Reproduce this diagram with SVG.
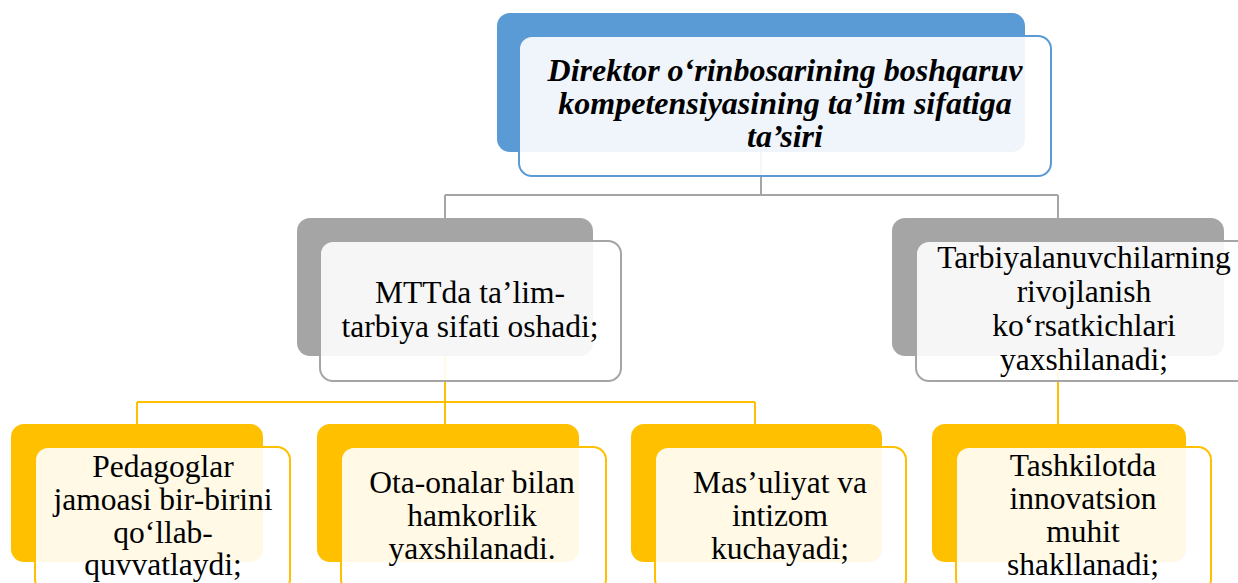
<svg xmlns="http://www.w3.org/2000/svg" width="1238" height="583" viewBox="0 0 1238 583">
<style>
.bb{fill:#5B9BD5}.bg{fill:#A5A5A5}.by{fill:#FFC000}
.f{fill:#FFFFFF;fill-opacity:0.9;stroke-width:2}
.fb{stroke:#5B9BD5}.fg{stroke:#A5A5A5}.fy{stroke:#FFC000}
.cg{fill:none;stroke:#A5A5A5;stroke-width:2}
.cy{fill:none;stroke:#FFC000;stroke-width:2}
.t{font-family:'Liberation Serif','Times New Roman',serif;font-size:31.5px;fill:#000;text-anchor:middle}
.h{font-family:'Liberation Serif','Times New Roman',serif;font-size:32px;font-weight:bold;font-style:italic;fill:#000;text-anchor:middle}
</style>
<g id="connectors">
<path class="cg" d="M761 152V195M445 195H1058M445 195V218M1058 195V218"/>
<path class="cy" d="M445 355V402M137 402H755M137 402V424M445 402V424M755 402V424M1058 355V424"/>
</g>
<g id="n0">
<rect class="bb" x="497" y="13" width="528" height="139" rx="13"/>
<rect class="f fb" x="519" y="36" width="532" height="140" rx="13"/>
<text class="h" x="785" y="81">Direktor o‘rinbosarining boshqaruv</text>
<text class="h" x="785" y="114">kompetensiyasining ta’lim sifatiga</text>
<text class="h" x="785" y="147">ta’siri</text>
</g>
<g id="n1">
<rect class="bg" x="297" y="218" width="296" height="138" rx="13"/>
<rect class="f fg" x="320" y="241" width="301" height="140" rx="13"/>
<text class="t" x="470" y="303">MTTda ta’lim-</text>
<text class="t" x="470" y="337">tarbiya sifati oshadi;</text>
</g>
<g id="n2">
<rect class="bg" x="892" y="218" width="332" height="138" rx="13"/>
<rect class="f fg" x="916" y="241" width="336" height="140" rx="13"/>
<text class="t" x="1084" y="268">Tarbiyalanuvchilarning</text>
<text class="t" x="1084" y="302">rivojlanish</text>
<text class="t" x="1084" y="336">ko‘rsatkichlari</text>
<text class="t" x="1084" y="370">yaxshilanadi;</text>
</g>
<g id="n3">
<rect class="by" x="11" y="424" width="252" height="138" rx="13"/>
<rect class="f fy" x="35" y="447" width="255" height="145" rx="13"/>
<text class="t" x="163" y="477">Pedagoglar</text>
<text class="t" x="163" y="510">jamoasi bir-birini</text>
<text class="t" x="163" y="543">qo‘llab-</text>
<text class="t" x="163" y="575">quvvatlaydi;</text>
</g>
<g id="n4">
<rect class="by" x="317" y="424" width="262" height="138" rx="13"/>
<rect class="f fy" x="341" y="447" width="265" height="145" rx="13"/>
<text class="t" x="472" y="493">Ota-onalar bilan</text>
<text class="t" x="472" y="526">hamkorlik</text>
<text class="t" x="472" y="559">yaxshilanadi.</text>
</g>
<g id="n5">
<rect class="by" x="631" y="424" width="251" height="138" rx="13"/>
<rect class="f fy" x="655" y="447" width="251" height="145" rx="13"/>
<text class="t" x="780" y="493">Mas’uliyat va</text>
<text class="t" x="780" y="526">intizom</text>
<text class="t" x="780" y="559">kuchayadi;</text>
</g>
<g id="n6">
<rect class="by" x="932" y="424" width="254" height="138" rx="13"/>
<rect class="f fy" x="956" y="447" width="255" height="145" rx="13"/>
<text class="t" x="1083" y="476">Tashkilotda</text>
<text class="t" x="1083" y="509">innovatsion</text>
<text class="t" x="1083" y="542">muhit</text>
<text class="t" x="1083" y="575">shakllanadi;</text>
</g>
</svg>
